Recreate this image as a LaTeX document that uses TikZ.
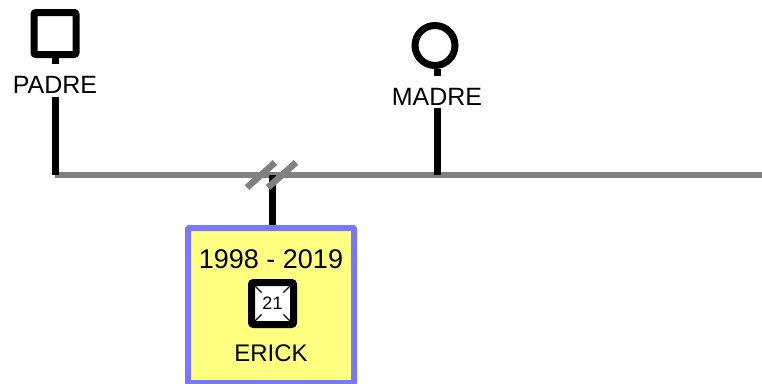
\documentclass[tikz,border=0pt]{standalone}
\usepackage{fontspec}
\setmainfont{Liberation Sans}
\usepackage{tikz}

\definecolor{linegray}{RGB}{128,128,128}
\definecolor{boxblue}{RGB}{120,120,255}
\definecolor{boxyellow}{RGB}{255,255,128}

\begin{document}
\begin{tikzpicture}[x=1pt, y=-1pt,
    person/.style={draw=black, line width=7pt, fill=white, inner sep=0pt},
    nametag/.style={inner sep=0pt, text height=29pt, text depth=4pt, anchor=base,
                    font=\fontsize{25}{27}\selectfont},
    kin/.style={line width=7pt},
    union/.style={draw=linegray, line width=6pt}]
  \useasboundingbox (0,0) rectangle (762,383);

  % parents
  \node[person, rectangle, rounded corners=2pt, minimum size=42pt] (padre) at (55,33.5) {};
  \node[nametag] (padretag) at (55,93) {PADRE};
  \node[person, circle, minimum size=40pt] (madre) at (435,45.5) {};
  \node[nametag, text depth=3pt] (madretag) at (437,105) {MADRE};

  \coordinate (pjoin) at (55,175);
  \coordinate (mjoin) at (437,175);
  \coordinate (cjoin) at (272,175);
  \coordinate (uend) at (762,175);

  \draw[union] (pjoin) -- (uend);
  \draw[kin] (padre.south -| padretag) -- (padretag);
  \draw[kin] (padretag) -- (pjoin);
  \draw[kin] (madre.south -| madretag) -- (madretag);
  \draw[kin] (madretag) -- (mjoin);

  % child
  \node[draw=boxblue, fill=boxyellow, line width=6pt, rounded corners=1pt,
        minimum width=166pt, minimum height=155pt, inner sep=0pt, anchor=north]
        (erickbox) at (271,225) {};
  \draw[kin] (cjoin) -- (cjoin |- erickbox.north);
  % separation marks
  \foreach \dx in {-11,10}{
      \draw[union, line width=6.5pt] ([shift={(\dx-14,12.5)}]cjoin) -- ++(28,-25);
  }

  \node[font=\fontsize{27}{30}\selectfont] (erickdates) at (271,259) {1998 - 2019};
  \node[draw=black, line width=7pt, fill=white, rounded corners=2pt,
        minimum size=42pt, inner sep=0pt] (erick) at (272.5,303.5) {};
  \node[font=\fontsize{18}{20}\selectfont] (erickage) at (erick) {21};
  \foreach \a in {45,135,225,315}{
      \draw[line width=1.3pt] ([shift={(\a:24.5)}]erick.center) -- ([shift={(\a:15.5)}]erick.center);
  }
  \node[font=\fontsize{24}{26}\selectfont] (ericktag) at (271,353.5) {ERICK};
\end{tikzpicture}
\end{document}
